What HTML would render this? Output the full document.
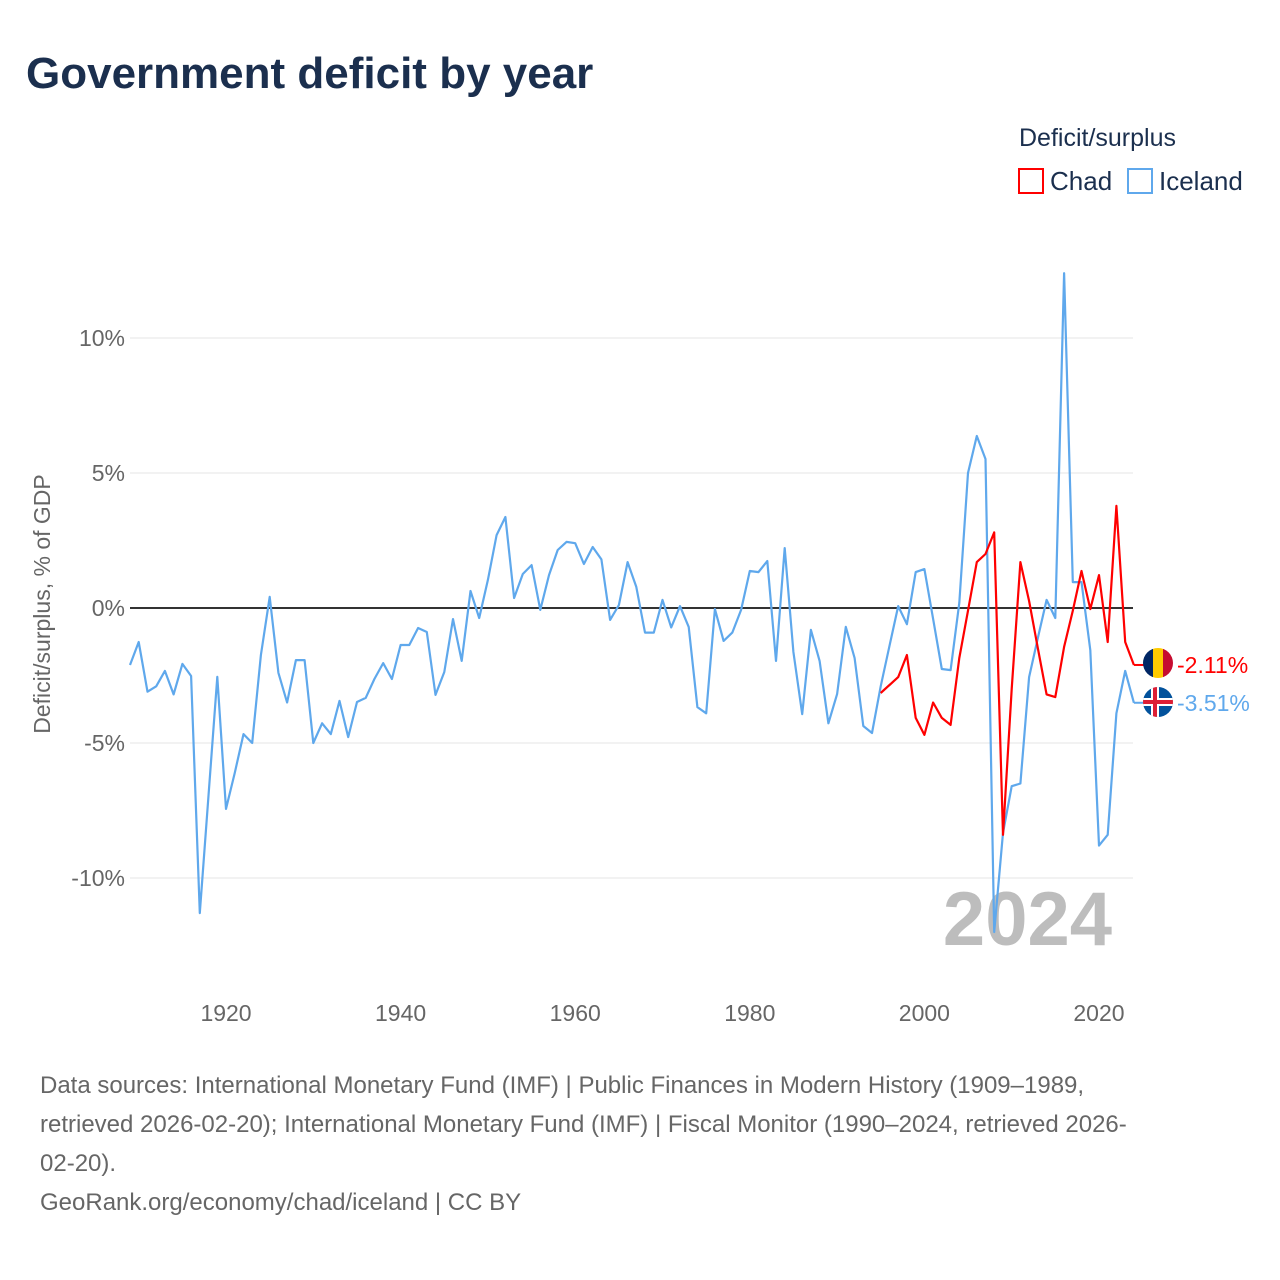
<!DOCTYPE html>
<html><head><meta charset="utf-8">
<style>
html,body{margin:0;padding:0;background:#fff;}
body{width:1280px;height:1280px;position:relative;font-family:"Liberation Sans",sans-serif;overflow:hidden;}
.t{position:absolute;white-space:nowrap;}
</style></head>
<body>
<div class="t" style="left:26px;top:49px;font-size:44px;font-weight:bold;color:#1b2f4e;">Government deficit by year</div>
<div class="t" style="left:1019px;top:124px;font-size:25px;color:#1b2f4e;">Deficit/surplus</div>
<div style="position:absolute;left:1018px;top:168px;">
 <div style="position:absolute;left:0;top:0;width:26px;height:26px;border:2px solid #f00;box-sizing:border-box;"></div>
 <div class="t" style="left:32px;top:-2px;font-size:26px;color:#1b2f4e;">Chad</div>
</div>
<div style="position:absolute;left:1127px;top:168px;">
 <div style="position:absolute;left:0;top:0;width:26px;height:26px;border:2px solid #5fa8ec;box-sizing:border-box;"></div>
 <div class="t" style="left:32px;top:-2px;font-size:26px;color:#1b2f4e;">Iceland</div>
</div>
<svg id="chart" width="1280" height="1280" style="position:absolute;left:0;top:0;" xmlns="http://www.w3.org/2000/svg"></svg>
<div class="t" style="left:40px;top:1066px;font-size:24px;line-height:39px;color:#666;">Data sources: International Monetary Fund (IMF) | Public Finances in Modern History (1909–1989,<br>retrieved 2026-02-20); International Monetary Fund (IMF) | Fiscal Monitor (1990–2024, retrieved 2026-<br>02-20).<br>GeoRank.org/economy/chad/iceland | CC BY</div>
<script>
const icelandStart = 1909;
const icelandValues = [-2.11,-1.26,-3.1,-2.9,-2.33,-3.2,-2.07,-2.52,-11.3,-6.9,-2.55,-7.44,-6.1,-4.67,-5.0,-1.74,0.41,-2.4,-3.5,-1.93,-1.93,-5.0,-4.27,-4.67,-3.44,-4.78,-3.48,-3.33,-2.63,-2.04,-2.63,-1.37,-1.37,-0.74,-0.89,-3.22,-2.37,-0.41,-1.96,0.63,-0.37,1.04,2.7,3.37,0.37,1.26,1.59,-0.07,1.22,2.15,2.45,2.4,1.63,2.26,1.8,-0.44,0.11,1.7,0.78,-0.91,-0.91,0.3,-0.72,0.07,-0.7,-3.67,-3.9,-0.04,-1.22,-0.91,-0.07,1.37,1.33,1.74,-1.96,2.22,-1.63,-3.93,-0.81,-1.96,-4.27,-3.19,-0.7,-1.85,-4.37,-4.63,-2.9,-1.4,0.07,-0.6,1.33,1.44,-0.4,-2.26,-2.3,0.19,5.0,6.37,5.52,-12.0,-8.33,-6.6,-6.5,-2.56,-1.1,0.3,-0.37,12.4,0.96,0.96,-1.56,-8.8,-8.4,-3.9,-2.33,-3.51];
const chadStart = 1995;
const chadValues = [-3.15,-2.85,-2.56,-1.74,-4.07,-4.7,-3.5,-4.07,-4.33,-1.85,-0.1,1.7,2.0,2.8,-8.4,-3.0,1.7,0.26,-1.5,-3.2,-3.3,-1.44,-0.1,1.37,-0.04,1.22,-1.26,3.78,-1.26,-2.11];
const yTicks = [10,5,0,-5,-10];
const xTicks = [1920,1940,1960,1980,2000,2020];

const NS="http://www.w3.org/2000/svg";
const svg=document.getElementById('chart');
const X0=130,X1=1133.9,Y0=1909,Y1=2024;
const xs=yr=>X0+(yr-Y0)*(X1-X0)/(Y1-Y0);
const ys=v=>608-v*27;
function mk(tag,attrs){const e=document.createElementNS(NS,tag);for(const k in attrs)e.setAttribute(k,attrs[k]);svg.appendChild(e);return e;}

yTicks.forEach(v=>{
  if(v!==0){
    const g=mk('line',{x1:130,x2:1133,y1:ys(v),y2:ys(v),stroke:'#e4e4e4','stroke-width':1});
    
    
  }
  const t=mk('text',{x:125,y:ys(v)+8,'text-anchor':'end','font-size':23,fill:'#666','font-family':'Liberation Sans, sans-serif'});
  t.textContent=v+'%';
  
  
});
xTicks.forEach(yr=>{
  const t=mk('text',{x:xs(yr),y:1021,'text-anchor':'middle','font-size':23,fill:'#666','font-family':'Liberation Sans, sans-serif'});
  t.textContent=yr;
  
  
});
const yt=mk('text',{x:0,y:0,transform:'translate(50,604) rotate(-90)','text-anchor':'middle','font-size':23,fill:'#666','font-family':'Liberation Sans, sans-serif'});
yt.textContent='Deficit/surplus, % of GDP';



const yrLbl=mk('text',{x:1112,y:945,'text-anchor':'end','font-size':76,'font-weight':'bold',fill:'#bdbdbd','font-family':'Liberation Sans, sans-serif'});
yrLbl.textContent='2024';



const zl=mk('line',{x1:130,x2:1133,y1:ys(0),y2:ys(0),stroke:'#333','stroke-width':2});



function pts(start,vals){return vals.map((v,i)=>xs(start+i).toFixed(1)+','+ys(v).toFixed(1)).join(' ');}
const li=mk('polyline',{points:pts(icelandStart,icelandValues),fill:'none',stroke:'#5fa8ec','stroke-width':2.2,'stroke-linejoin':'round'});


const lc=mk('polyline',{points:pts(chadStart,chadValues),fill:'none',stroke:'#f00','stroke-width':2.2,'stroke-linejoin':'round'});



const cy=ys(chadValues[chadValues.length-1]), iy=ys(icelandValues[icelandValues.length-1]);
const c1=mk('line',{x1:X1,x2:1145,y1:cy,y2:cy,stroke:'#f00','stroke-width':2});


const c2=mk('line',{x1:X1,x2:1145,y1:iy,y2:iy,stroke:'#5fa8ec','stroke-width':2});



const defs=mk('defs',{});
defs.innerHTML='<clipPath id="cc"><circle cx="1158" cy="663" r="15"/></clipPath><clipPath id="ci"><circle cx="1158" cy="702" r="15"/></clipPath>';
const fc=mk('g',{'clip-path':'url(#cc)'});


fc.innerHTML='<rect x="1143" y="648" width="10" height="30" fill="#002664"/><rect x="1153" y="648" width="10" height="30" fill="#fecb00"/><rect x="1163" y="648" width="10" height="30" fill="#c60c30"/>';
const fi=mk('g',{'clip-path':'url(#ci)'});


fi.innerHTML='<rect x="1143" y="687" width="30" height="30" fill="#02529c"/><rect x="1143" y="698" width="30" height="8" fill="#fff"/><rect x="1151" y="687" width="8" height="30" fill="#fff"/><rect x="1143" y="700" width="30" height="4" fill="#dc1e35"/><rect x="1153" y="687" width="4" height="30" fill="#dc1e35"/>';

const lt1=mk('text',{x:1177,y:cy+8,'font-size':23,fill:'#f00','font-family':'Liberation Sans, sans-serif'});
lt1.textContent=chadValues[chadValues.length-1].toFixed(2)+'%';


const lt2=mk('text',{x:1177,y:iy+8,'font-size':23,fill:'#5fa8ec','font-family':'Liberation Sans, sans-serif'});
lt2.textContent=icelandValues[icelandValues.length-1].toFixed(2)+'%';


</script>
</body></html>
